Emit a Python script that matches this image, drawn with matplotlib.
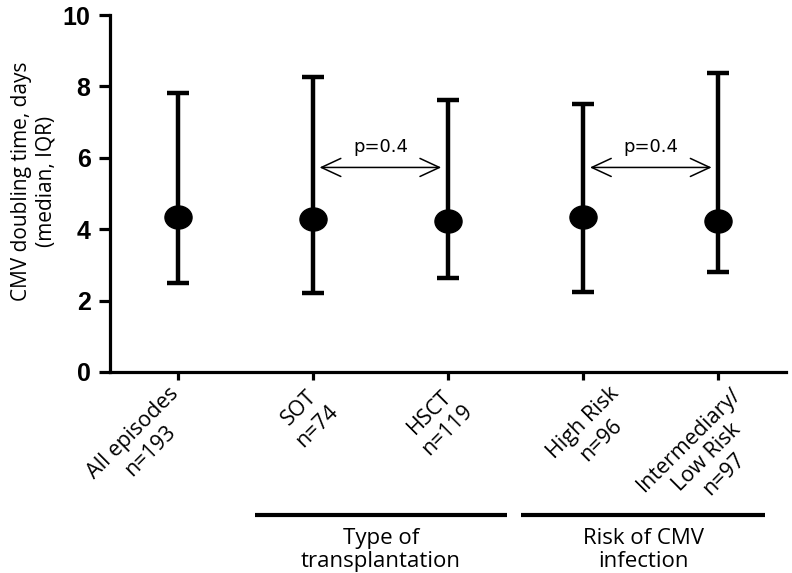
import matplotlib
matplotlib.use("Agg")
import matplotlib.pyplot as plt
from matplotlib.path import Path
from matplotlib.transforms import Affine2D, ScaledTranslation

# Data (median and IQR of CMV doubling time, days)
groups = ["All episodes\nn=193", "SOT\nn=74", "HSCT\nn=119",
          "High Risk\nn=96", "Intermediary/\nLow Risk\nn=97"]
medians = [4.33, 4.28, 4.24, 4.35, 4.24]
q1 = [2.48, 2.20, 2.64, 2.23, 2.79]
q3 = [7.81, 8.27, 7.62, 7.52, 8.38]

comparisons = [(1, 2), (3, 4)]
p_labels = ["p=0.4", "p=0.4"]

group_titles = ["Type of\ntransplantation", "Risk of CMV\ninfection"]

LABEL_FONT = "Open Sans"

fig = plt.figure(figsize=(7.92, 5.73), dpi=100)
ax = fig.add_axes([0.1389, 0.3508, 0.8535, 0.623])

x = list(range(len(groups)))
lower = [m - lo for m, lo in zip(medians, q1)]
upper = [hi - m for m, hi in zip(medians, q3)]

# slightly squashed dot, as in the original
ellipse = Path.unit_circle().transformed(Affine2D().scale(1.0, 23 / 27))

ax.errorbar(x, medians, yerr=[lower, upper], fmt="none", ecolor="black",
            elinewidth=3.2, capsize=8, capthick=3.2, zorder=2)
ax.plot(x, medians, linestyle="none", marker=ellipse, markersize=19.5,
        color="black", zorder=3)

# p-value arrows between paired groups
for (a, b), lab in zip(comparisons, p_labels):
    y_arrow = 5.73
    ax.annotate("", xy=(b - 0.05, y_arrow), xytext=(a + 0.05, y_arrow),
                arrowprops=dict(arrowstyle="<->,head_length=1.4,head_width=0.65",
                                lw=1.1, color="black", shrinkA=0, shrinkB=0,
                                mutation_scale=10))
    ax.text((a + b) / 2, 6.31, lab, ha="center", va="center", fontsize=13,
            family="DejaVu Sans")

ax.set_xlim(-0.5, 4.5)
ax.set_ylim(0, 10)
ax.set_yticks([0, 2, 4, 6, 8, 10])
ax.set_xticks(x)
ax.set_xticklabels(groups, rotation=45, ha="right", va="top",
                   rotation_mode="anchor", family=LABEL_FONT, fontsize=15.5,
                   multialignment="center", linespacing=1.25)
for lab in ax.get_yticklabels():
    lab.set_family("Liberation Sans")
    lab.set_fontweight("bold")
    lab.set_fontsize(18)

ax.set_ylabel("CMV doubling time, days\n(median, IQR)", family=LABEL_FONT,
              fontsize=15, linespacing=1.2)
ax.yaxis.set_label_coords(-0.079, 0.535)

for side in ["top", "right"]:
    ax.spines[side].set_visible(False)
for side in ["left", "bottom"]:
    ax.spines[side].set_linewidth(2.3)
ax.tick_params(axis="y", direction="out", length=8, width=2.3, pad=6)
ax.tick_params(axis="x", direction="out", length=6, width=2.3, pad=2)

# the category labels in the original sit a little unevenly
label_shift_px = [-10, -3, -4, 25, 12]
for lab, dx in zip(ax.get_xticklabels(), label_shift_px):
    lab.set_transform(lab.get_transform()
                      + ScaledTranslation(dx / 100, 0, fig.dpi_scale_trans))

# group brackets under the category labels
bracket_spans = [(0.572, 2.436), (2.54, 4.345)]
trans = ax.get_xaxis_transform()
for (x0, x1), title in zip(bracket_spans, group_titles):
    ax.plot([x0, x1], [-0.40, -0.40], color="black", lw=3, transform=trans,
            clip_on=False, solid_capstyle="butt")
    ax.text((x0 + x1) / 2, -0.438, title, transform=trans, ha="center", va="top",
            family=LABEL_FONT, fontsize=16, linespacing=1.12)

fig.savefig("out.png", dpi=100)
